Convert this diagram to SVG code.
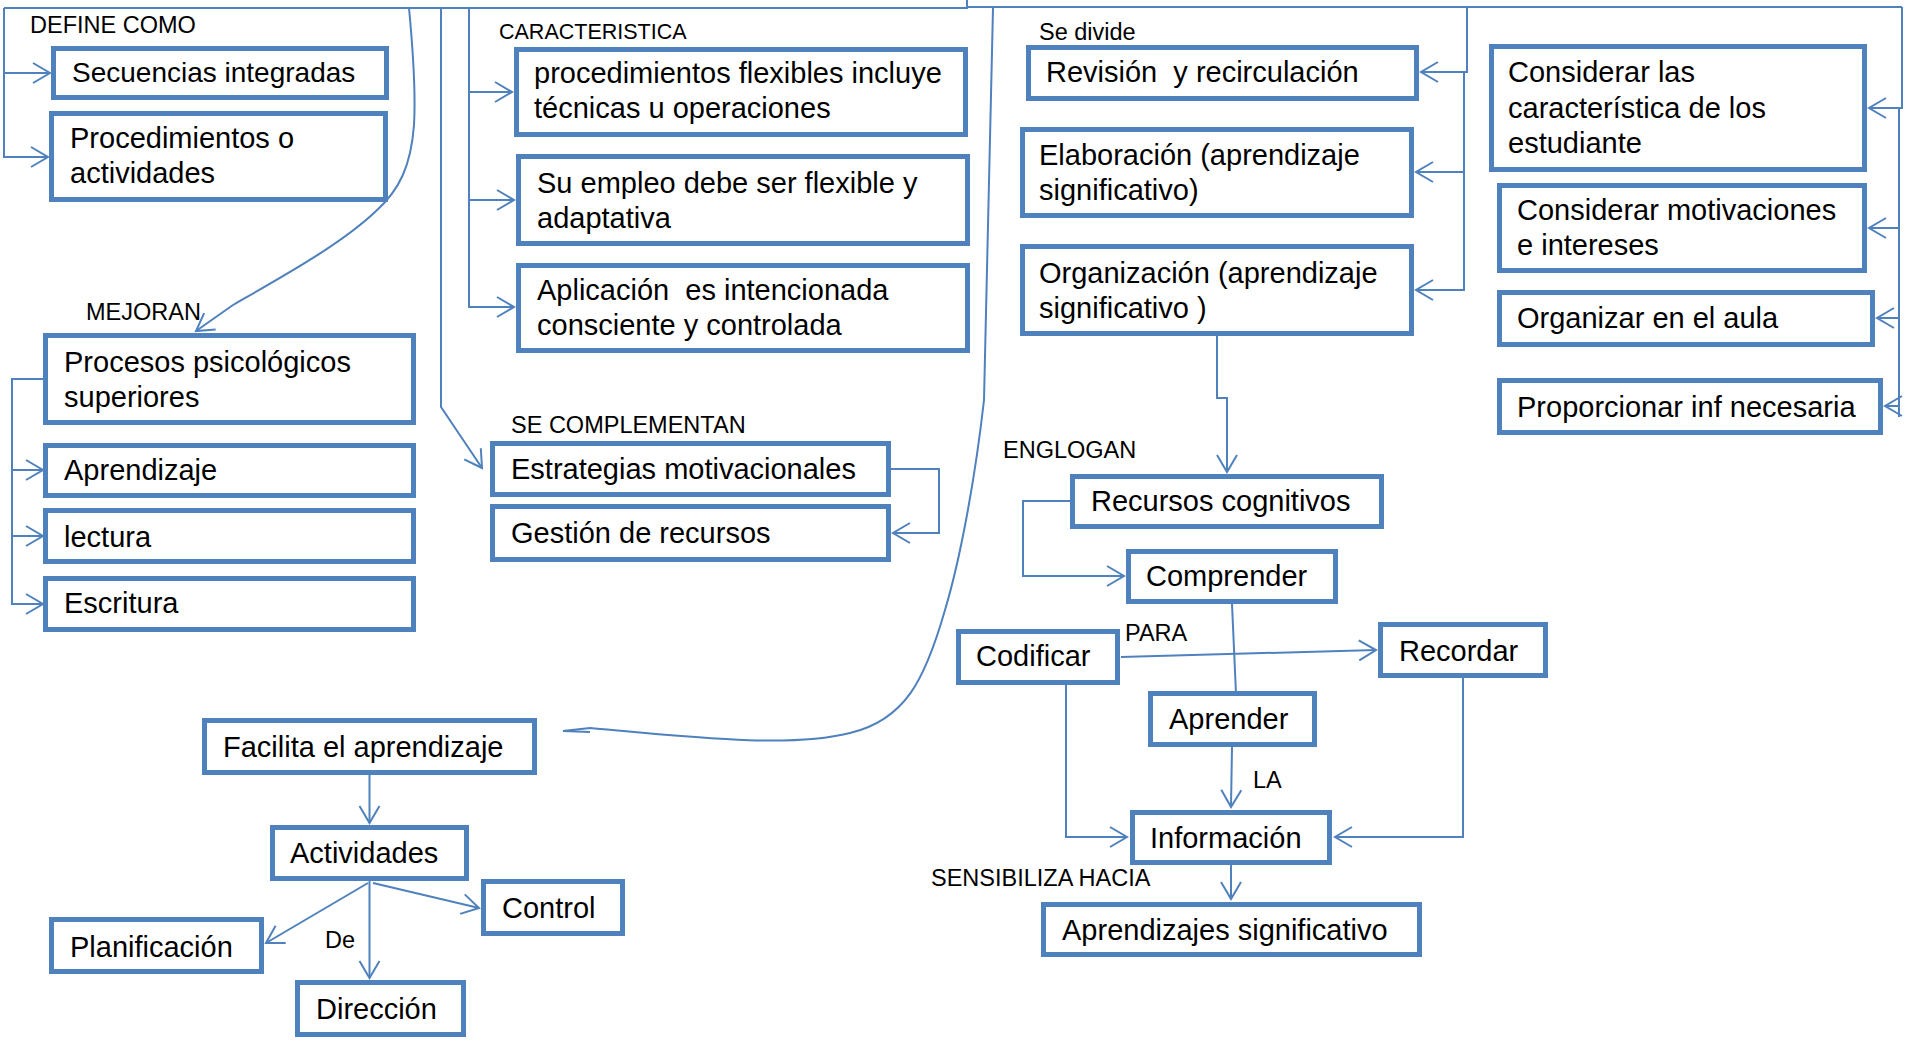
<svg xmlns="http://www.w3.org/2000/svg" width="1911" height="1045" viewBox="0 0 1911 1045">
<style>
.box{fill:#fff;stroke:#4F81BD;stroke-width:5}
.t{font-family:"Liberation Sans",Arial,sans-serif;font-size:29px;fill:#000}
.l{font-family:"Liberation Sans",Arial,sans-serif;font-size:23.5px;fill:#000}
.c{fill:none;stroke:#4F81BD;stroke-width:2}
</style>
<defs>
<marker id="ar" markerUnits="userSpaceOnUse" markerWidth="22" markerHeight="24" refX="17" refY="10" orient="auto" viewBox="-2 -2 22 24">
<path d="M0,0 L17,10 L0,20" fill="none" stroke="#4F81BD" stroke-width="2"/>
</marker>
</defs>
<rect width="1911" height="1045" fill="#fff"/>
<g id="connectors">
<path class="c" d="M4,8 H967 V0"/>
<path class="c" d="M967,7 H1902"/>
<path class="c" d="M4,8 V157 H48" marker-end="url(#ar)"/>
<path class="c" d="M4,73 H50" marker-end="url(#ar)"/>
<path class="c" d="M1902,7 V108 H1869" marker-end="url(#ar)"/>
<path class="c" d="M1899,108 V417"/>
<path class="c" d="M1899,228 H1869" marker-end="url(#ar)"/>
<path class="c" d="M1899,318 H1877" marker-end="url(#ar)"/>
<path class="c" d="M1899,406 H1885" marker-end="url(#ar)"/>
<path class="c" d="M1467,8 V72 H1421" marker-end="url(#ar)"/>
<path class="c" d="M1464,72 V290 H1416" marker-end="url(#ar)"/>
<path class="c" d="M1464,172 H1416" marker-end="url(#ar)"/>
<path class="c" d="M469,8 V307 H514" marker-end="url(#ar)"/>
<path class="c" d="M469,92 H512" marker-end="url(#ar)"/>
<path class="c" d="M469,200 H514" marker-end="url(#ar)"/>
<path class="c" d="M441,8 V407 L482,468" marker-end="url(#ar)"/>
<path class="c" d="M409,8 C413,50 416,90 414,125 C411,165 400,190 375,212 C340,245 280,278 233,305 L196,331" marker-end="url(#ar)"/>
<path class="c" d="M43,379 H12 V604 H43" marker-end="url(#ar)"/>
<path class="c" d="M12,470 H43" marker-end="url(#ar)"/>
<path class="c" d="M12,536 H43" marker-end="url(#ar)"/>
<path class="c" d="M891,469 H939 V533 H893" marker-end="url(#ar)"/>
<path class="c" d="M993,8 L984,400 C975,480 960,560 945,610 C925,680 905,720 850,733 C790,748 700,738 590,728 L563,731 L590,732"/>
<path class="c" d="M1217,336 V398 H1227 V472" marker-end="url(#ar)"/>
<path class="c" d="M1070,501 H1023 V576 H1124" marker-end="url(#ar)"/>
<path class="c" d="M1232,604 L1237,716" marker-end="url(#ar)"/>
<path class="c" d="M1121,657 L1376,650" marker-end="url(#ar)"/>
<path class="c" d="M1232,747 L1231,807" marker-end="url(#ar)"/>
<path class="c" d="M1066,678 V837 H1127" marker-end="url(#ar)"/>
<path class="c" d="M1463,678 V837 H1335" marker-end="url(#ar)"/>
<path class="c" d="M1231,865 V899" marker-end="url(#ar)"/>
<path class="c" d="M369.5,775 V823" marker-end="url(#ar)"/>
<path class="c" d="M369.5,881 V978" marker-end="url(#ar)"/>
<path class="c" d="M368,883 L266,943" marker-end="url(#ar)"/>
<path class="c" d="M373,883 L479,908" marker-end="url(#ar)"/>
</g>
<g id="labels">
<text class="l" x="30" y="33">DEFINE COMO</text>
<text class="l" x="86" y="320">MEJORAN</text>
<text class="l" x="499" y="39" style="font-size:21.5px">CARACTERISTICA</text>
<text class="l" x="511" y="433">SE COMPLEMENTAN</text>
<text class="l" x="1039" y="40">Se divide</text>
<text class="l" x="1003" y="458">ENGLOGAN</text>
<text class="l" x="1125" y="641">PARA</text>
<text class="l" x="1253" y="788">LA</text>
<text class="l" x="931" y="886">SENSIBILIZA HACIA</text>
<text class="l" x="325" y="948">De</text>
</g>
<g id="n1"><rect class="box" x="53.5" y="48.5" width="333" height="49"/><text class="t" x="72" y="82" style="font-size:28px">Secuencias integradas</text></g>
<g id="n2"><rect class="box" x="51.5" y="113.5" width="334" height="86"/><text class="t" x="70" y="148">Procedimientos o</text><text class="t" x="70" y="183">actividades</text></g>
<g id="n3"><rect class="box" x="45.5" y="335.5" width="368" height="87"/><text class="t" x="64" y="372">Procesos psicológicos</text><text class="t" x="64" y="407">superiores</text></g>
<g id="n4"><rect class="box" x="45.5" y="445.5" width="368" height="50"/><text class="t" x="64" y="480">Aprendizaje</text></g>
<g id="n5"><rect class="box" x="45.5" y="510.5" width="368" height="51"/><text class="t" x="64" y="547">lectura</text></g>
<g id="n6"><rect class="box" x="45.5" y="578.5" width="368" height="51"/><text class="t" x="64" y="613">Escritura</text></g>
<g id="n7"><rect class="box" x="516.5" y="49.5" width="449" height="85"/><text class="t" x="534" y="83">procedimientos flexibles incluye</text><text class="t" x="534" y="118">técnicas u operaciones</text></g>
<g id="n8"><rect class="box" x="518.5" y="156.5" width="449" height="87"/><text class="t" x="537" y="193">Su empleo debe ser flexible y</text><text class="t" x="537" y="228">adaptativa</text></g>
<g id="n9"><rect class="box" x="518.5" y="265.5" width="449" height="85"/><text class="t" x="537" y="300" xml:space="preserve">Aplicación  es intencionada</text><text class="t" x="537" y="335">consciente y controlada</text></g>
<g id="n10"><rect class="box" x="492.5" y="443.5" width="396" height="51"/><text class="t" x="511" y="479">Estrategias motivacionales</text></g>
<g id="n11"><rect class="box" x="492.5" y="506.5" width="396" height="53"/><text class="t" x="511" y="543">Gestión de recursos</text></g>
<g id="n12"><rect class="box" x="1028.5" y="47.5" width="388" height="51"/><text class="t" x="1046" y="82" xml:space="preserve">Revisión  y recirculación</text></g>
<g id="n13"><rect class="box" x="1022.5" y="129.5" width="389" height="86"/><text class="t" x="1039" y="165">Elaboración (aprendizaje</text><text class="t" x="1039" y="200">significativo)</text></g>
<g id="n14"><rect class="box" x="1022.5" y="246.5" width="389" height="87"/><text class="t" x="1039" y="283">Organización (aprendizaje</text><text class="t" x="1039" y="318">significativo )</text></g>
<g id="n15"><rect class="box" x="1491.5" y="46.5" width="373" height="123"/><text class="t" x="1508" y="82">Considerar las</text><text class="t" x="1508" y="118">característica de los</text><text class="t" x="1508" y="153">estudiante</text></g>
<g id="n16"><rect class="box" x="1499.5" y="185.5" width="365" height="85"/><text class="t" x="1517" y="220">Considerar motivaciones</text><text class="t" x="1517" y="255">e intereses</text></g>
<g id="n17"><rect class="box" x="1499.5" y="292.5" width="373" height="52"/><text class="t" x="1517" y="328">Organizar en el aula</text></g>
<g id="n18"><rect class="box" x="1499.5" y="380.5" width="381" height="52"/><text class="t" x="1517" y="417">Proporcionar inf necesaria</text></g>
<g id="n19"><rect class="box" x="1072.5" y="476.5" width="309" height="50"/><text class="t" x="1091" y="511">Recursos cognitivos</text></g>
<g id="n20"><rect class="box" x="1128.5" y="551.5" width="207" height="50"/><text class="t" x="1146" y="586">Comprender</text></g>
<g id="n21"><rect class="box" x="958.5" y="631.5" width="159" height="51"/><text class="t" x="976" y="666">Codificar</text></g>
<g id="n22"><rect class="box" x="1380.5" y="624.5" width="165" height="51"/><text class="t" x="1399" y="661">Recordar</text></g>
<g id="n23"><rect class="box" x="1150.5" y="693.5" width="164" height="51"/><text class="t" x="1169" y="729">Aprender</text></g>
<g id="n24"><rect class="box" x="1132.5" y="812.5" width="197" height="50"/><text class="t" x="1150" y="848">Información</text></g>
<g id="n25"><rect class="box" x="1043.5" y="904.5" width="376" height="50"/><text class="t" x="1062" y="940">Aprendizajes significativo</text></g>
<g id="n26"><rect class="box" x="204.5" y="720.5" width="330" height="52"/><text class="t" x="223" y="757">Facilita el aprendizaje</text></g>
<g id="n27"><rect class="box" x="272.5" y="827.5" width="194" height="51"/><text class="t" x="290" y="863">Actividades</text></g>
<g id="n28"><rect class="box" x="483.5" y="881.5" width="139" height="52"/><text class="t" x="502" y="918">Control</text></g>
<g id="n29"><rect class="box" x="51.5" y="919.5" width="210" height="52"/><text class="t" x="70" y="957">Planificación</text></g>
<g id="n30"><rect class="box" x="297.5" y="982.5" width="166" height="52"/><text class="t" x="316" y="1019">Dirección</text></g>
</svg>
